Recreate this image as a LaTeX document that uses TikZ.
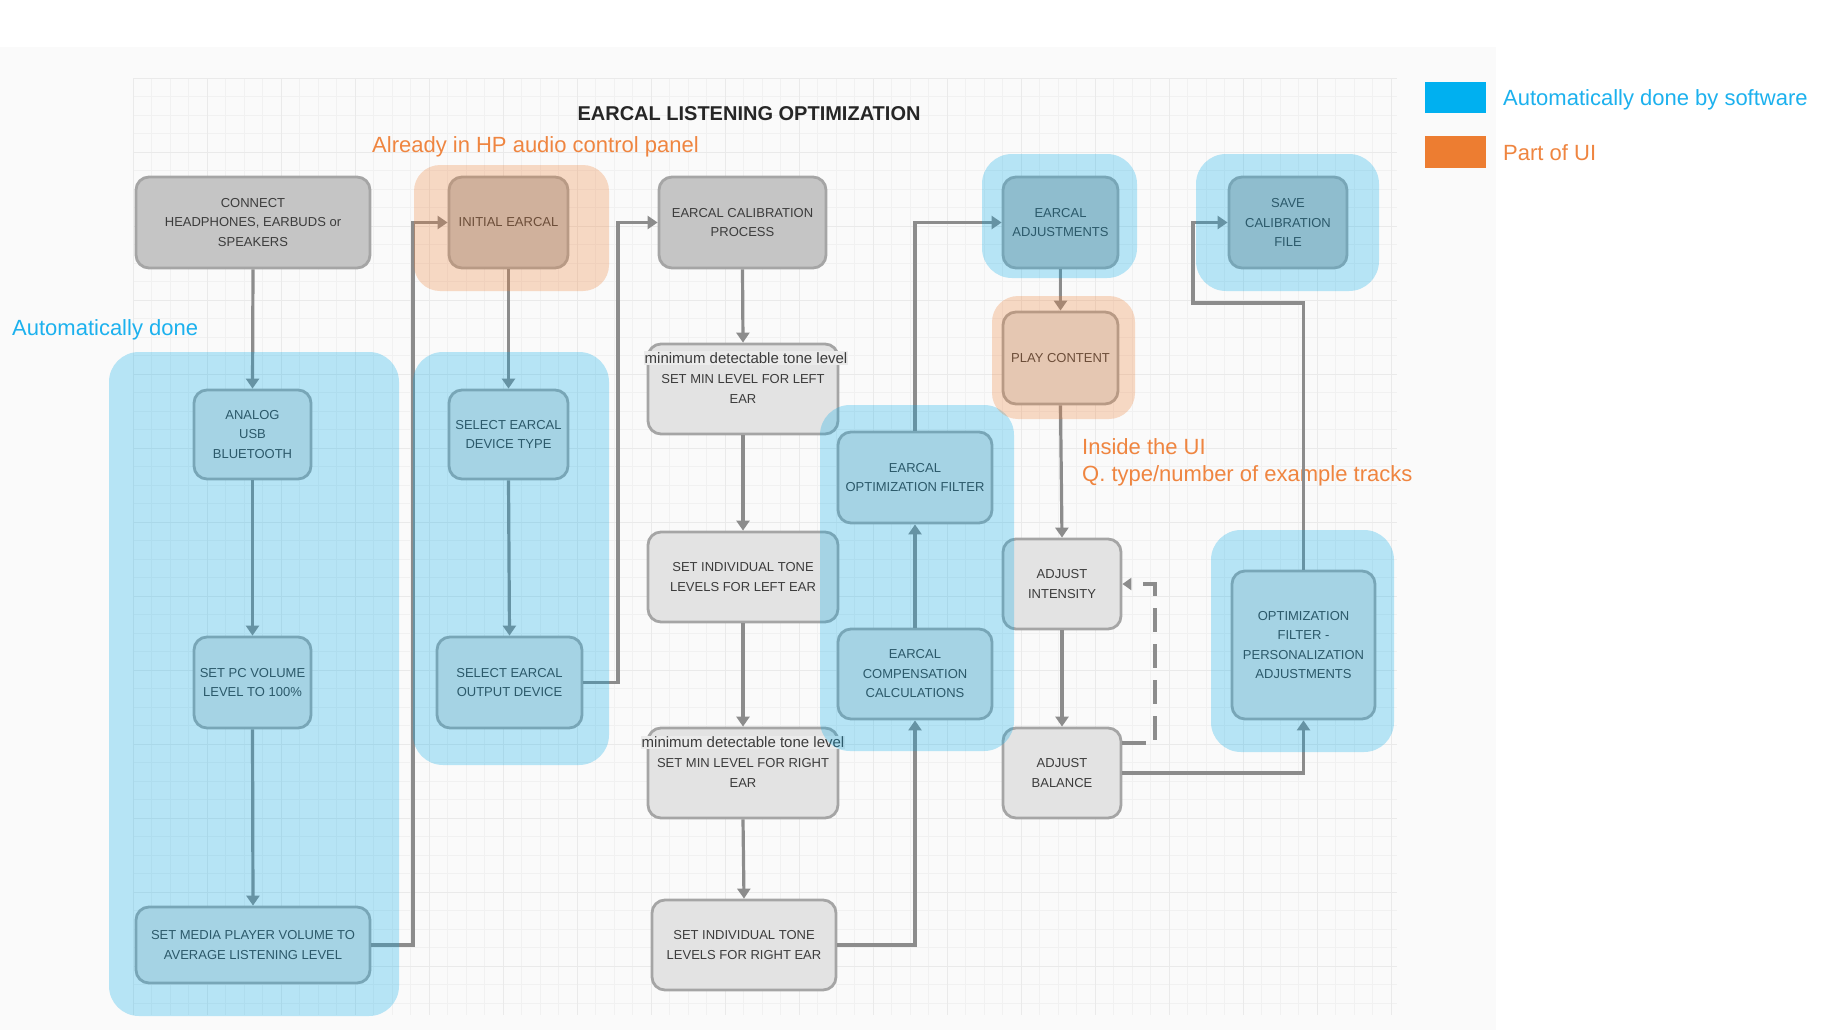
\documentclass[tikz,border=0pt]{standalone}
\usepackage{fontspec}
\setmainfont{Liberation Sans}
\usetikzlibrary{arrows.meta,calc}
\definecolor{boxdark}{HTML}{C5C5C5}
\definecolor{boxlight}{HTML}{E3E3E3}
\definecolor{boxline}{HTML}{A5A5A5}
\definecolor{txt}{HTML}{3C3C3C}
\definecolor{arr}{HTML}{8C8C8C}
\definecolor{haloblue}{HTML}{00A9E8}
\definecolor{haloorange}{HTML}{EE7D31}
\definecolor{legblue}{HTML}{00B0F0}
\definecolor{legorange}{HTML}{ED7D31}
\definecolor{bluetxt}{HTML}{1CB1EE}
\definecolor{orangetxt}{HTML}{EF8540}
\definecolor{gridminor}{HTML}{F1F1F1}
\definecolor{gridmajor}{HTML}{EAEAEA}
\definecolor{panel}{HTML}{FAFAFA}
\begin{document}
\begin{tikzpicture}[x=1pt,y=-1pt,
  nbox/.style={draw=boxline, line width=2.8pt, rounded corners=13pt, align=center,
    font=\fontsize{13}{19.5}\selectfont, text=txt, inner sep=0pt},
  dk/.style={nbox, fill=boxdark},
  lt/.style={nbox, fill=boxlight},
  flow/.style={draw=arr, line width=3.2pt, -{Triangle[width=13pt,length=10pt]}},
  dashflow/.style={draw=arr, line width=3.2pt, dash pattern=on 24pt off 12pt, -{Triangle[width=12pt,length=9pt]}},
  halob/.style={fill=haloblue, fill opacity=0.27, rounded corners=30pt},
  haloo/.style={fill=haloorange, fill opacity=0.27, rounded corners=26pt},
  minlab/.style={fill=white!92!black, text=txt, inner sep=1pt, font=\fontsize{15}{17}\selectfont},
  orangelbl/.style={text=orangetxt, font=\fontsize{22}{26}\selectfont, anchor=west, inner sep=0pt},
  bluelbl/.style={text=bluetxt, font=\fontsize{22}{26}\selectfont, anchor=west, inner sep=0pt}
]
\useasboundingbox (0,0) rectangle (1840,1036);
\fill[white] (0,0) rectangle (1840,1036);
\fill[panel] (0,47) rectangle (1496,1030);
% grid
\foreach \i in {0,...,68} {\draw[gridminor, line width=0.9pt] ({133+\i*18.5},78) -- ({133+\i*18.5},1015);}
\foreach \j in {0,...,50} {\draw[gridminor, line width=0.9pt] (133,{78+\j*18.5}) -- (1397,{78+\j*18.5});}
\foreach \i in {0,...,17} {\draw[gridmajor, line width=1pt] ({133+\i*74},78) -- ({133+\i*74},1015);}
\foreach \j in {0,...,12} {\draw[gridmajor, line width=1pt] (133,{78+\j*74}) -- (1397,{78+\j*74});}

% title and labels
\node[font=\bfseries\fontsize{20}{24}\selectfont, text=black!85] (title) at (749,114) {EARCAL LISTENING OPTIMIZATION};
\node[orangelbl] (lblhp) at (372,147) {Already in HP audio control panel};
\node[bluelbl] (lblauto) at (12,330) {Automatically done};
\node[orangelbl] (lblui) at (1082,447) {Inside the UI};
\node[orangelbl] (lblq) at (1082,476) {Q. type/number of example tracks};

% nodes
\node[dk, minimum width=234pt, minimum height=91pt] (connect) at (253,222.5) {CONNECT\\HEADPHONES, EARBUDS or\\SPEAKERS};
\node[dk, minimum width=119pt, minimum height=91pt] (init) at (508.5,222.5) {INITIAL EARCAL};
\node[dk, minimum width=167pt, minimum height=91pt] (calib) at (742.5,222.5) {EARCAL CALIBRATION\\PROCESS};
\node[dk, minimum width=115pt, minimum height=91pt] (adj) at (1060.5,222.5) {EARCAL\\ADJUSTMENTS};
\node[dk, minimum width=118pt, minimum height=91pt] (save) at (1288,222.5) {SAVE\\CALIBRATION\\FILE};
\node[lt, minimum width=115pt, minimum height=92pt] (play) at (1060.5,358) {PLAY CONTENT};

\node[lt, minimum width=117pt, minimum height=89pt] (analog) at (252.5,434.5) {ANALOG\\USB\\BLUETOOTH};
\node[lt, minimum width=117pt, minimum height=91pt] (setpc) at (252.5,682.5) {SET PC VOLUME\\LEVEL TO 100\%};
\node[lt, minimum width=234pt, minimum height=76pt] (media) at (253,945) {SET MEDIA PLAYER VOLUME TO\\AVERAGE LISTENING LEVEL};

\node[lt, minimum width=119pt, minimum height=89pt] (devtype) at (508.5,434.5) {SELECT EARCAL\\DEVICE TYPE};
\node[lt, minimum width=145pt, minimum height=91pt] (outdev) at (509.5,682.5) {SELECT EARCAL\\OUTPUT DEVICE};

\node[lt, minimum width=190pt, minimum height=90pt] (minl) at (743,389) {SET MIN LEVEL FOR LEFT\\EAR};
\node[minlab] (minllab) at (746,358) {minimum detectable tone level};
\node[lt, minimum width=190pt, minimum height=90pt] (setl) at (743,577) {SET INDIVIDUAL TONE\\LEVELS FOR LEFT EAR};
\node[lt, minimum width=190pt, minimum height=90pt] (minr) at (743,773) {SET MIN LEVEL FOR RIGHT\\EAR};
\node[minlab] (minrlab) at (743,742) {minimum detectable tone level};
\node[lt, minimum width=184pt, minimum height=90pt] (setr) at (744,945) {SET INDIVIDUAL TONE\\LEVELS FOR RIGHT EAR};

\node[lt, minimum width=154pt, minimum height=91pt] (optf) at (915,477.5) {EARCAL\\OPTIMIZATION FILTER};
\node[lt, minimum width=154pt, minimum height=90pt] (comp) at (915,674) {EARCAL\\COMPENSATION\\CALCULATIONS};

\node[lt, minimum width=118pt, minimum height=90pt] (intens) at (1062,584) {ADJUST\\INTENSITY};
\node[lt, minimum width=118pt, minimum height=90pt] (bal) at (1062,773) {ADJUST\\BALANCE};
\node[lt, minimum width=143pt, minimum height=148pt] (pers) at (1303.5,645) {OPTIMIZATION\\FILTER -\\PERSONALIZATION\\ADJUSTMENTS};

% connectors
\draw[flow] (connect.south) -- (analog.north);
\draw[flow] (analog.south) -- (setpc.north);
\draw[flow] (setpc.south) -- (media.north);
\coordinate (k0) at (413,945);
\draw[flow] (media.east) -- (k0) |- (init.west);
\draw[flow] (init.south) -- (devtype.north);
\draw[flow] (devtype.south) -- (outdev.north);
\coordinate (k2) at (618,682.5);
\draw[flow] (outdev.east) -- (k2) |- (calib.west);
\draw[flow] (calib.south) -- (minl.north);
\draw[flow] (minl.south) -- (setl.north);
\draw[flow] (setl.south) -- (minr.north);
\draw[flow] (minr.south) -- (setr.north);
\draw[flow] (setr.east) -| (comp.south);
\draw[flow] (comp.north) -- (optf.south);
\draw[flow] (optf.north) |- (adj.west);
\draw[flow] (adj.south) -- (play.north);
\draw[flow] (play.south) -- (intens.north);
\draw[flow] (intens.south) -- (bal.north);
\draw[flow] (bal.east) -| (pers.south);
\coordinate (k1) at (1193,303);
\draw[flow] (pers.north) |- (k1) |- (save.west);
\coordinate (k3) at (1155,743);
\draw[dashflow] (bal.east |- k3) -- (k3) |- (intens.east);

% halos
\fill[halob] (109,352) rectangle (399,1016);
\fill[halob] (413,352) rectangle (609,765);
\fill[halob] (820,405) rectangle (1014,751);
\fill[halob] (1211,530) rectangle (1394,752);
\fill[halob] (982,154) rectangle (1137,278);
\fill[halob] (1196,154) rectangle (1379,291);
\fill[haloo] (414,165) rectangle (609,291);
\fill[haloo] (992,296) rectangle (1135,419);

% legend
\fill[legblue] (1425,82) rectangle (1486,113);
\node[bluelbl] (legb) at (1503,100) {Automatically done by software};
\fill[legorange] (1425,136) rectangle (1486,168);
\node[orangelbl] (lego) at (1503,153) {Part of UI};
\end{tikzpicture}
\end{document}
